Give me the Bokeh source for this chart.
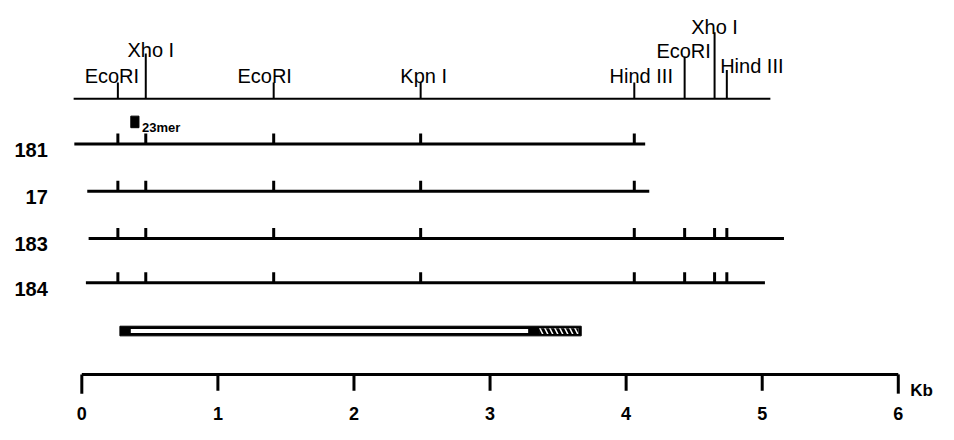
from bokeh.plotting import figure
from bokeh.models import Range1d
from bokeh.core.properties import value
from bokeh.embed import file_html
from bokeh.resources import INLINE

# ---------------- data (kb) ----------------
site_names = ["EcoRI", "Xho I", "EcoRI", "Kpn I", "Hind III", "EcoRI", "Xho I", "Hind III"]
site_kb = [0.265, 0.47, 1.41, 2.49, 4.06, 4.43, 4.65, 4.74]
map_start_kb, map_end_kb = -0.06, 5.06

clones = ["181", "17", "183", "184"]
clone_start_kb = [-0.055, 0.04, 0.05, 0.03]
clone_end_kb = [4.14, 4.17, 5.16, 5.02]
clone_nsites = [5, 5, 8, 8]

probe_name = "23mer"
probe_kb = (0.36, 0.42)

cdna_start_kb, cdna_end_kb = 0.28, 3.67
cdna_open_kb = (0.36, 3.28)
cdna_hatch_kb = (3.36, 3.67)

scale_ticks = [0, 1, 2, 3, 4, 5, 6]
scale_labels = ["0", "1", "2", "3", "4", "5", "6"]
scale_unit = "Kb"

# ---------------- layout (styling; vertical units = reference pixels) ----------------
FONT = value("Liberation Sans")
map_y = 102
site_tick_len = [17, 47, 17, 17, 17, 44, 69, 30]
label_baseline = [78, 51, 78, 78, 78, 52, 27, 68]
label_dx = [-6, 5, -9, 3, 7, -1, 0, 25]
row_y = [149, 198, 247, 293]
row_tick = 11
bar_y = 343
scale_y = 388

W, H = 938, 424
REF_W, REF_H = 954, 440
px_per_kb = 138.4
x0_ref = 82.7
xr = Range1d((0 - x0_ref) / px_per_kb, (REF_W - x0_ref) / px_per_kb)
yr = Range1d(REF_H, 0)

p = figure(width=W, height=H, x_range=xr, y_range=yr, output_backend="svg",
           toolbar_location=None, min_border=0, x_axis_location=None,
           y_axis_location=None, outline_line_color=None)
p.grid.visible = False
p.background_fill_color = "white"

# top restriction map
p.segment(x0=[map_start_kb], y0=[map_y], x1=[map_end_kb], y1=[map_y],
          line_color="black", line_width=2)
p.segment(x0=site_kb, y0=[map_y] * len(site_kb), x1=site_kb,
          y1=[map_y - h for h in site_tick_len], line_color="black", line_width=2)
for i in range(len(site_kb)):
    p.text(x=[site_kb[i]], y=[label_baseline[i]], text=[site_names[i]],
           x_offset=label_dx[i], text_align="center", text_baseline="alphabetic",
           text_font=FONT, text_font_size="20px", text_color="black")

# probe
p.quad(left=[probe_kb[0]], right=[probe_kb[1]], top=[120], bottom=[132],
       fill_color="black", line_color="black")
p.text(x=[probe_kb[1]], y=[132], text=[probe_name], x_offset=3,
       text_align="left", text_baseline="alphabetic", text_font=FONT,
       text_font_size="13px", text_font_style="bold", text_color="black")

# clones
for i, name in enumerate(clones):
    y = row_y[i]
    p.segment(x0=[clone_start_kb[i]], y0=[y], x1=[clone_end_kb[i]], y1=[y],
              line_color="black", line_width=3)
    s = site_kb[:clone_nsites[i]]
    p.segment(x0=s, y0=[y] * len(s), x1=s, y1=[y - row_tick] * len(s),
              line_color="black", line_width=3)
    p.text(x=[-0.25], y=[y + 6], text=[name], text_align="right",
           text_baseline="alphabetic", text_font=FONT, text_font_size="20px",
           text_font_style="bold", text_color="black")

# cDNA bar
p.quad(left=[cdna_start_kb], right=[cdna_end_kb], top=[bar_y - 5], bottom=[bar_y + 5],
       fill_color="black", line_color="black")
p.quad(left=[cdna_open_kb[0]], right=[cdna_open_kb[1]], top=[bar_y - 2], bottom=[bar_y + 2],
       fill_color="white", line_color=None)
p.quad(left=[cdna_hatch_kb[0]], right=[cdna_hatch_kb[1] - 0.02], top=[bar_y - 3],
       bottom=[bar_y + 3], fill_color="white", line_color=None,
       hatch_pattern="\\", hatch_color="black", hatch_weight=3, hatch_scale=10)

# scale bar
p.segment(x0=[scale_ticks[0]], y0=[scale_y], x1=[scale_ticks[-1]], y1=[scale_y],
          line_color="black", line_width=3)
p.segment(x0=scale_ticks, y0=[scale_y] * len(scale_ticks), x1=scale_ticks,
          y1=[scale_y + (20 if t in (scale_ticks[0], scale_ticks[-1]) else 17) for t in scale_ticks],
          line_color="black", line_width=3)
p.text(x=scale_ticks, y=[429] * len(scale_ticks), text=scale_labels,
       text_align="center", text_baseline="alphabetic", text_font=FONT,
       text_font_size="18px", text_font_style="bold", text_color="black")
p.text(x=[scale_ticks[-1]], y=[405], text=[scale_unit], x_offset=12,
       text_align="left", text_baseline="alphabetic", text_font=FONT,
       text_font_size="17px", text_font_style="bold", text_color="black")

open("out.html", "w").write(file_html(p, INLINE))
